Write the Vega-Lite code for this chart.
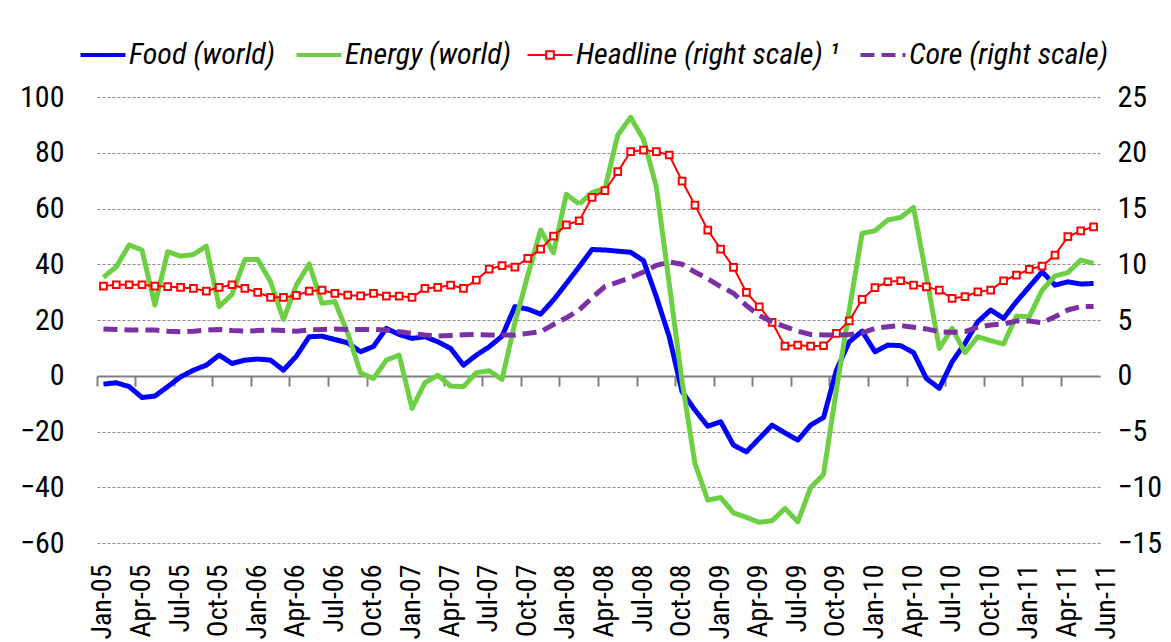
{
  "$schema": "https://vega.github.io/schema/vega-lite/v6.json",
  "width": 1003,
  "height": 446,
  "autosize": {"type": "none"},
  "padding": {"left": 97, "top": 97, "right": 71, "bottom": 99},
  "background": "white",
  "config": {
    "view": {"stroke": null},
    "font": "Roboto Condensed, DejaVu Sans Condensed, Roboto, sans-serif",
    "axis": {"labelFont": "Roboto Condensed, DejaVu Sans Condensed, Roboto, sans-serif", "labelColor": "#000000"},
    "legend": {"labelFont": "Roboto Condensed, DejaVu Sans Condensed, Roboto, sans-serif"}
  },
  "data": {
    "values": [
      {"m": "Jan-05", "food": -3.0, "energy": 35.3, "headline": 8.04, "core": 4.2},
      {"m": "Feb-05", "food": -2.5, "energy": 39.1, "headline": 8.16, "core": 4.15},
      {"m": "Mar-05", "food": -3.9, "energy": 46.9, "headline": 8.16, "core": 4.1},
      {"m": "Apr-05", "food": -7.8, "energy": 45.1, "headline": 8.16, "core": 4.1},
      {"m": "May-05", "food": -7.3, "energy": 25.4, "headline": 8.04, "core": 4.1},
      {"m": "Jun-05", "food": -3.9, "energy": 44.5, "headline": 8.0, "core": 4.0},
      {"m": "Jul-05", "food": -0.4, "energy": 42.9, "headline": 7.92, "core": 3.95},
      {"m": "Aug-05", "food": 2.0, "energy": 43.5, "headline": 7.83, "core": 4.0},
      {"m": "Sep-05", "food": 3.8, "energy": 46.5, "headline": 7.59, "core": 4.1},
      {"m": "Oct-05", "food": 7.4, "energy": 24.8, "headline": 7.92, "core": 4.15},
      {"m": "Nov-05", "food": 4.4, "energy": 29.2, "headline": 8.16, "core": 4.05},
      {"m": "Dec-05", "food": 5.6, "energy": 41.7, "headline": 7.83, "core": 4.0},
      {"m": "Jan-06", "food": 6.0, "energy": 41.7, "headline": 7.47, "core": 4.05},
      {"m": "Feb-06", "food": 5.6, "energy": 33.7, "headline": 7.03, "core": 4.1},
      {"m": "Mar-06", "food": 2.0, "energy": 20.2, "headline": 7.03, "core": 4.05},
      {"m": "Apr-06", "food": 7.0, "energy": 32.5, "headline": 7.2, "core": 4.0},
      {"m": "May-06", "food": 14.0, "energy": 40.1, "headline": 7.59, "core": 4.1},
      {"m": "Jun-06", "food": 14.2, "energy": 26.0, "headline": 7.68, "core": 4.15},
      {"m": "Jul-06", "food": 13.0, "energy": 26.6, "headline": 7.38, "core": 4.2},
      {"m": "Aug-06", "food": 11.8, "energy": 15.2, "headline": 7.23, "core": 4.15},
      {"m": "Sep-06", "food": 8.6, "energy": 1.0, "headline": 7.17, "core": 4.15},
      {"m": "Oct-06", "food": 10.5, "energy": -1.0, "headline": 7.38, "core": 4.15},
      {"m": "Nov-06", "food": 17.0, "energy": 5.6, "headline": 7.14, "core": 4.1},
      {"m": "Dec-06", "food": 14.8, "energy": 7.4, "headline": 7.14, "core": 3.95},
      {"m": "Jan-07", "food": 13.4, "energy": -11.7, "headline": 7.03, "core": 3.8},
      {"m": "Feb-07", "food": 14.0, "energy": -2.5, "headline": 7.83, "core": 3.65},
      {"m": "Mar-07", "food": 12.2, "energy": 0.2, "headline": 7.92, "core": 3.56},
      {"m": "Apr-07", "food": 9.8, "energy": -3.7, "headline": 8.13, "core": 3.62},
      {"m": "May-07", "food": 3.8, "energy": -3.9, "headline": 7.83, "core": 3.68},
      {"m": "Jun-07", "food": 7.4, "energy": 1.1, "headline": 8.58, "core": 3.7},
      {"m": "Jul-07", "food": 10.4, "energy": 1.8, "headline": 9.57, "core": 3.65},
      {"m": "Aug-07", "food": 14.2, "energy": -1.3, "headline": 9.87, "core": 3.65},
      {"m": "Sep-07", "food": 24.8, "energy": 19.0, "headline": 9.75, "core": 3.65},
      {"m": "Oct-07", "food": 23.9, "energy": 36.0, "headline": 10.52, "core": 3.8},
      {"m": "Nov-07", "food": 22.1, "energy": 52.3, "headline": 11.36, "core": 3.95},
      {"m": "Dec-07", "food": 27.2, "energy": 44.1, "headline": 12.53, "core": 4.6},
      {"m": "Jan-08", "food": 33.1, "energy": 65.1, "headline": 13.54, "core": 5.2},
      {"m": "Feb-08", "food": 39.1, "energy": 61.6, "headline": 13.9, "core": 5.9},
      {"m": "Mar-08", "food": 45.3, "energy": 65.7, "headline": 16.0, "core": 7.0},
      {"m": "Apr-08", "food": 45.1, "energy": 67.2, "headline": 16.6, "core": 8.0},
      {"m": "May-08", "food": 44.7, "energy": 86.4, "headline": 18.3, "core": 8.4},
      {"m": "Jun-08", "food": 44.3, "energy": 92.7, "headline": 20.1, "core": 8.8},
      {"m": "Jul-08", "food": 41.3, "energy": 84.8, "headline": 20.24, "core": 9.3},
      {"m": "Aug-08", "food": 28.3, "energy": 67.8, "headline": 20.1, "core": 9.9},
      {"m": "Sep-08", "food": 14.0, "energy": 33.0, "headline": 19.8, "core": 10.2},
      {"m": "Oct-08", "food": -5.7, "energy": -2.0, "headline": 17.46, "core": 10.0},
      {"m": "Nov-08", "food": -12.3, "energy": -31.5, "headline": 15.3, "core": 9.3},
      {"m": "Dec-08", "food": -18.1, "energy": -44.6, "headline": 13.06, "core": 8.7},
      {"m": "Jan-09", "food": -16.5, "energy": -43.7, "headline": 11.36, "core": 8.0},
      {"m": "Feb-09", "food": -24.9, "energy": -49.2, "headline": 9.72, "core": 7.4},
      {"m": "Mar-09", "food": -27.3, "energy": -50.8, "headline": 7.47, "core": 6.3},
      {"m": "Apr-09", "food": -22.5, "energy": -52.6, "headline": 6.19, "core": 5.4},
      {"m": "May-09", "food": -17.7, "energy": -52.0, "headline": 4.78, "core": 4.85},
      {"m": "Jun-09", "food": -20.5, "energy": -47.6, "headline": 2.66, "core": 4.4},
      {"m": "Jul-09", "food": -23.1, "energy": -52.4, "headline": 2.75, "core": 4.0},
      {"m": "Aug-09", "food": -17.7, "energy": -40.1, "headline": 2.66, "core": 3.7},
      {"m": "Sep-09", "food": -15.0, "energy": -35.4, "headline": 2.69, "core": 3.65},
      {"m": "Oct-09", "food": 2.0, "energy": -5.1, "headline": 3.8, "core": 3.65},
      {"m": "Nov-09", "food": 12.2, "energy": 23.6, "headline": 4.93, "core": 3.7},
      {"m": "Dec-09", "food": 16.0, "energy": 51.1, "headline": 6.85, "core": 3.85},
      {"m": "Jan-10", "food": 8.6, "energy": 52.0, "headline": 7.9, "core": 4.25},
      {"m": "Feb-10", "food": 11.0, "energy": 55.9, "headline": 8.43, "core": 4.4},
      {"m": "Mar-10", "food": 10.8, "energy": 56.8, "headline": 8.52, "core": 4.5},
      {"m": "Apr-10", "food": 8.3, "energy": 60.4, "headline": 8.13, "core": 4.35},
      {"m": "May-10", "food": -1.0, "energy": 35.6, "headline": 7.98, "core": 4.2},
      {"m": "Jun-10", "food": -4.5, "energy": 9.8, "headline": 7.68, "core": 3.95},
      {"m": "Jul-10", "food": 5.0, "energy": 17.0, "headline": 6.94, "core": 3.9},
      {"m": "Aug-10", "food": 11.6, "energy": 8.3, "headline": 7.09, "core": 3.95},
      {"m": "Sep-10", "food": 19.4, "energy": 14.0, "headline": 7.53, "core": 4.35},
      {"m": "Oct-10", "food": 23.6, "energy": 12.6, "headline": 7.68, "core": 4.55},
      {"m": "Nov-10", "food": 20.6, "energy": 11.4, "headline": 8.52, "core": 4.65},
      {"m": "Dec-10", "food": 26.6, "energy": 21.4, "headline": 9.03, "core": 4.9},
      {"m": "Jan-11", "food": 31.9, "energy": 21.2, "headline": 9.54, "core": 4.9},
      {"m": "Feb-11", "food": 37.3, "energy": 30.7, "headline": 9.84, "core": 4.75},
      {"m": "Mar-11", "food": 32.5, "energy": 35.8, "headline": 10.82, "core": 5.3},
      {"m": "Apr-11", "food": 33.7, "energy": 37.0, "headline": 12.47, "core": 5.9},
      {"m": "May-11", "food": 32.9, "energy": 41.5, "headline": 13.0, "core": 6.2},
      {"m": "Jun-11", "food": 33.1, "energy": 40.3, "headline": 13.36, "core": 6.2}
    ]
  },
  "transform": [{"fold": ["food", "energy", "headline", "core"], "as": ["series", "value"]}],
  "layer": [
    {
      "transform": [{"filter": "datum.series == 'food' || datum.series == 'energy'"}],
      "mark": {"type": "line", "strokeWidth": 5, "strokeJoin": "round"},
      "encoding": {
        "x": {
          "field": "m", "type": "ordinal", "sort": null,
          "scale": {"type": "band", "paddingInner": 0, "paddingOuter": 0},
          "axis": {
            "title": null, "orient": "bottom", "domain": false, "ticks": false, "tickSize": 0, "grid": false,
            "labelAngle": 270, "labelAlign": "right", "labelBaseline": "middle",
            "labelFontSize": 28, "labelPadding": 21,
            "labelOffset": {"condition": {"test": "datum.value == 'Jun-11'", "value": 13}, "value": 0},
            "values": ["Jan-05","Apr-05","Jul-05","Oct-05","Jan-06","Apr-06","Jul-06","Oct-06","Jan-07","Apr-07","Jul-07","Oct-07","Jan-08","Apr-08","Jul-08","Oct-08","Jan-09","Apr-09","Jul-09","Oct-09","Jan-10","Apr-10","Jul-10","Oct-10","Jan-11","Apr-11","Jun-11"]
          }
        },
        "y": {
          "field": "value", "type": "quantitative",
          "scale": {"domain": [-60, 100], "nice": false, "zero": false},
          "axis": {
            "title": null, "orient": "left", "values": [-60, -40, -20, 0, 20, 40, 60, 80, 100],
            "domain": false, "ticks": false, "tickSize": 0, "labelFontSize": 30, "labelPadding": 33,
            "grid": true, "gridColor": "#8c8c8c", "gridDash": [3, 2], "gridWidth": 1
          }
        },
        "color": {
          "field": "series", "type": "nominal",
          "scale": {"domain": ["food", "energy", "headline", "core"], "range": ["#0000FF", "#6CCF44", "#FF0000", "#7B30A3"]},
          "legend": {
            "title": null, "orient": "none", "legendX": -9, "legendY": -57, "direction": "horizontal",
            "padding": 0, "symbolType": "stroke", "symbolSize": 2025, "symbolStrokeWidth": 4,
            "labelFontSize": 30, "labelFontStyle": "italic", "labelColor": "#000000", "labelOffset": 11,
            "labelLimit": 500, "columnPadding": 12,
            "labelExpr": "datum.value == 'food' ? 'Food (world)' : datum.value == 'energy' ? 'Energy (world)' : datum.value == 'headline' ? 'Headline (right scale) ¹' : 'Core (right scale)'",
            "encoding": {
              "symbols": {
                "shape": {"value": {"signal": "datum.value == 'headline' ? 'M-1,0H-0.17M0.17,0H1M-0.17,-0.17H0.17V0.17H-0.17Z' : 'stroke'"}},
                "strokeWidth": {"value": {"signal": "datum.value == 'headline' ? 2 : 4"}}
              }
            }
          }
        },
        "strokeDash": {
          "field": "series", "type": "nominal",
          "scale": {"domain": ["food", "energy", "headline", "core"], "range": [[1, 0], [1, 0], [1, 0], [14, 7]]}
        }
      }
    },
    {
      "encoding": {
        "x": {
          "field": "m", "type": "ordinal", "sort": null,
          "scale": {"type": "band", "paddingInner": 0, "paddingOuter": 0},
          "axis": {
            "title": null, "orient": "bottom", "offset": -167, "bandPosition": 0, "labels": false, "grid": false,
            "domain": true, "domainColor": "#808080", "domainWidth": 2,
            "ticks": true, "tickColor": "#808080", "tickWidth": 2, "tickSize": 10,
            "values": ["Jan-05","Apr-05","Jul-05","Oct-05","Jan-06","Apr-06","Jul-06","Oct-06","Jan-07","Apr-07","Jul-07","Oct-07","Jan-08","Apr-08","Jul-08","Oct-08","Jan-09","Apr-09","Jul-09","Oct-09","Jan-10","Apr-10","Jul-10","Oct-10","Jan-11","Apr-11"]
          }
        },
        "y": {
          "field": "value", "type": "quantitative",
          "scale": {"domain": [-15, 25], "nice": false, "zero": false},
          "axis": {
            "title": null, "orient": "right", "values": [-15, -10, -5, 0, 5, 10, 15, 20, 25],
            "domain": false, "ticks": false, "tickSize": 0, "labelFontSize": 30, "labelPadding": 17,
            "labelAlign": "left", "grid": false
          }
        }
      },
      "layer": [
        {
          "transform": [{"filter": "datum.series == 'headline'"}],
          "mark": {"type": "line", "strokeWidth": 2},
          "encoding": {
            "color": {"field": "series", "type": "nominal"},
            "strokeDash": {"field": "series", "type": "nominal"}
          }
        },
        {
          "transform": [{"filter": "datum.series == 'headline'"}],
          "mark": {"type": "point", "shape": "square", "filled": true, "fill": "#FFFFFF", "stroke": "#FF0000", "strokeWidth": 2, "size": 45, "opacity": 1},
          "encoding": {}
        },
        {
          "transform": [{"filter": "datum.series == 'core'"}],
          "mark": {"type": "line", "strokeWidth": 5},
          "encoding": {
            "color": {"field": "series", "type": "nominal"},
            "strokeDash": {"field": "series", "type": "nominal"}
          }
        }
      ]
    }
  ],
  "resolve": {"scale": {"y": "independent"}, "axis": {"x": "independent"}}
}
